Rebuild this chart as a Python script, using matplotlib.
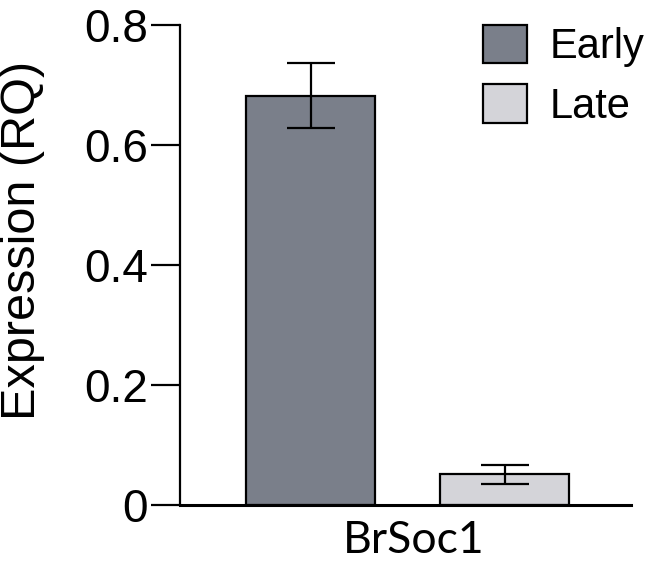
import matplotlib
matplotlib.use('Agg')
import matplotlib.pyplot as plt

gene = 'BrSoc1'
groups = ['Early', 'Late']
values = [0.682, 0.051]
errors = [0.054, 0.016]
colors = ['#7a7f8a', '#d4d4d9']
yticks = [0, 0.2, 0.4, 0.6, 0.8]
ytick_labels = ['0', '0.2', '0.4', '0.6', '0.8']

font = 'Liberation Sans'

fig = plt.figure(figsize=(6.5, 5.64), dpi=100)
ax = fig.add_axes([0.277, 0.105, 0.694, 0.851])

offsets = [-0.25, 0.25]
for off, g, v, e, c in zip(offsets, groups, values, errors, colors):
    ax.bar(off, v, width=0.333, color=c, edgecolor='black', linewidth=1.6,
           label=g, zorder=2)
    ax.errorbar(off, v, yerr=e, fmt='none', ecolor='black', elinewidth=1.6,
                capsize=17, capthick=1.6, zorder=3)

ax.set_xlim(-0.588, 0.577)
ax.set_ylim(0, 0.8)
ax.set_yticks(yticks)
ax.set_yticklabels(ytick_labels, fontsize=33, family=font)
ax.set_xticks([0.015])
ax.set_xticklabels([gene], fontsize=32, family='Lato')
ax.tick_params(axis='y', length=21, width=1.6, pad=2)
ax.tick_params(axis='x', length=0, pad=11)
ax.spines['top'].set_visible(False)
ax.spines['right'].set_visible(False)
ax.spines['left'].set_linewidth(1.6)
ax.spines['bottom'].set_linewidth(2.2)
ax.set_ylabel('Expression (RQ)', fontsize=35, family=font)
ax.yaxis.set_label_coords(-0.30, 0.55)

ax.legend(loc='upper left', bbox_to_anchor=(0.672, 1.0), frameon=False,
          prop={'family': font, 'size': 30}, handlelength=1.05,
          handleheight=1.05, handletextpad=0.55, labelspacing=0.4,
          borderpad=0, borderaxespad=0)

fig.savefig('out.png', dpi=100)
